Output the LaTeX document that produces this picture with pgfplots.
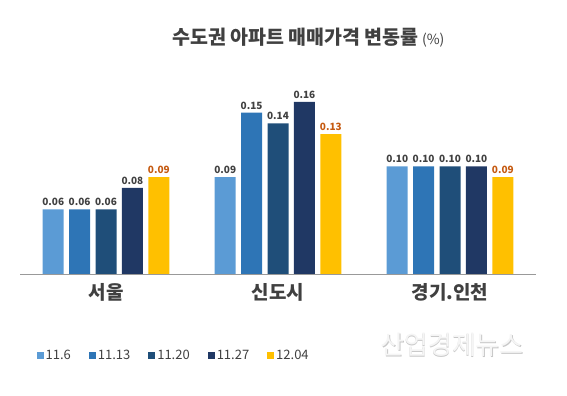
\documentclass[border=0pt]{standalone}
\usepackage{fontspec}
\setmainfont{Noto Sans CJK KR}
\usepackage{pgfplots}
\pgfplotsset{compat=1.18}
\definecolor{cA}{HTML}{5B9BD5}
\definecolor{cB}{HTML}{2E75B6}
\definecolor{cC}{HTML}{1F4E79}
\definecolor{cD}{HTML}{203864}
\definecolor{cE}{HTML}{FFC000}
\definecolor{txt}{HTML}{404040}
\definecolor{lbl}{HTML}{C55A11}
\begin{document}
\begin{tikzpicture}
\path (0,0) rectangle (567bp,396bp);
\begin{axis}[
  at={(20bp,122bp)}, anchor=south west,
  scale only axis, width=516bp, height=193.5bp,
  xmin=-0.5, xmax=2.5, ymin=0, ymax=0.18,
  ybar=5.4bp, bar width=21bp,
  axis y line=none, axis x line*=bottom,
  x axis line style={draw=gray!80, line width=0.8pt},
  xtick={0,1,2}, xticklabels={서울,신도시,경기.인천},
  major tick length=0pt,
  xticklabel style={font=\fontsize{19bp}{22bp}\selectfont\bfseries, text=txt, yshift=-6bp},
  /pgf/number format/assume math mode=true,
  nodes near coords,
  nodes near coords style={font=\fontsize{10bp}{12bp}\selectfont\bfseries, text=txt,
    /pgf/number format/fixed, /pgf/number format/precision=2, /pgf/number format/fixed zerofill},
  legend columns=5,
  legend style={at={(0.026,-0.419)}, anchor=west, draw=none, fill=none,
    font=\fontsize{13bp}{15bp}\selectfont, text=txt,
    /tikz/every even column/.append style={column sep=16bp}},
  legend image code/.code={\fill[#1] (0bp,-3.5bp) rectangle (7bp,3.5bp);},
]
\addplot[fill=cA, draw=none] coordinates {(0,0.06) (1,0.09) (2,0.10)};
\addplot[fill=cB, draw=none] coordinates {(0,0.06) (1,0.15) (2,0.10)};
\addplot[fill=cC, draw=none] coordinates {(0,0.06) (1,0.14) (2,0.10)};
\addplot[fill=cD, draw=none] coordinates {(0,0.08) (1,0.16) (2,0.10)};
\addplot[fill=cE, draw=none, nodes near coords style={text=lbl}] coordinates {(0,0.09) (1,0.13) (2,0.09)};
\legend{11.6,11.13,11.20,11.27,12.04}
\end{axis}
\node[anchor=west, text=txt, inner sep=0] at (172bp,358bp) {\fontsize{19.5bp}{22bp}\selectfont\bfseries 수도권 아파트 매매가격 변동률\,{\fontsize{14bp}{16bp}\selectfont\mdseries (\%)}};
\node[text=black!22, inner sep=0] at (452.8bp,50.2bp) {\fontsize{26bp}{28bp}\selectfont 산업경제뉴스};
\node[text=black!4, inner sep=0] at (452bp,51bp) {\fontsize{26bp}{28bp}\selectfont 산업경제뉴스};
\end{tikzpicture}
\end{document}
